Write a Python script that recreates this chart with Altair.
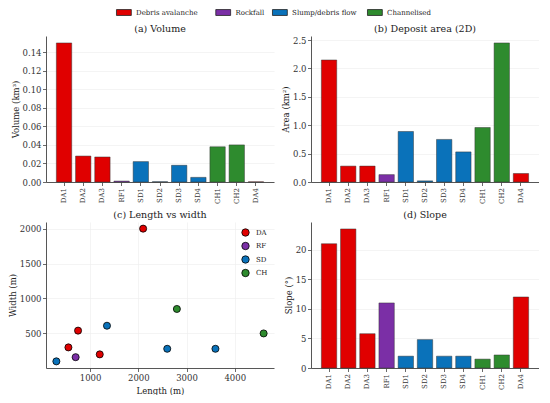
import altair as alt
import pandas as pd

cats = ["DA1", "DA2", "DA3", "RF1", "SD1", "SD2", "SD3", "SD4", "CH1", "CH2", "DA4"]
types = ["Debris avalanche", "Debris avalanche", "Debris avalanche", "Rockfall",
         "Slump/debris flow", "Slump/debris flow", "Slump/debris flow", "Slump/debris flow",
         "Channelised", "Channelised", "Debris avalanche"]
codes = ["DA", "DA", "DA", "RF", "SD", "SD", "SD", "SD", "CH", "CH", "DA"]
volume = [0.150, 0.028, 0.027, 0.001, 0.022, 0.0003, 0.018, 0.005, 0.038, 0.040, 0.0002]
area = [2.15, 0.28, 0.28, 0.13, 0.89, 0.02, 0.75, 0.53, 0.96, 2.45, 0.15]
slope = [21.0, 23.5, 5.8, 11.0, 2.0, 4.8, 2.0, 2.0, 1.5, 2.2, 12.0]
length = [2100, 750, 550, 700, 300, 1350, 2600, 3600, 2800, 4600, 1200]
width_m = [2000, 540, 300, 160, 100, 610, 280, 280, 850, 500, 200]

type_order = ["Debris avalanche", "Rockfall", "Slump/debris flow", "Channelised"]
code_order = ["DA", "RF", "SD", "CH"]
palette = ["#E00000", "#7B2FA6", "#0A72BA", "#2E8B2E"]

df = pd.DataFrame({"cat": cats, "type": types, "code": codes, "volume": volume,
                   "area": area, "slope": slope, "length": length, "width": width_m})

FONT = "DejaVu Serif"
W, H = 228, 146

# one legend entry per type, laid out horizontally across the top
legend_x = [73.4, 172.7, 229.4, 324.4]
legend_layers = []
for t, col, lx in zip(type_order, palette, legend_x):
    legend_layers.append(
        alt.Chart(df).transform_filter(alt.datum.type == t).mark_bar(opacity=0).encode(
            color=alt.Color("type:N", scale=alt.Scale(domain=[t], range=[col]),
                            legend=alt.Legend(orient="none", legendX=lx, legendY=0,
                                              direction="horizontal", title=None,
                                              symbolType="M-2,-0.8L2,-0.8L2,0.8L-2,0.8Z",
                                              symbolSize=55, symbolStrokeColor="#222",
                                              symbolStrokeWidth=0.8, symbolOpacity=1,
                                              labelFontSize=7, labelFont=FONT,
                                              labelColor="#222", labelOffset=7.7,
                                              padding=0))
        )
    )
legend_chart = alt.layer(*legend_layers).resolve_scale(color="independent").properties(
    width=1, height=1)


def bar(field, title, ytitle, dmax, ticks, fmt):
    return alt.Chart(df, title=title).mark_bar(
        stroke="#333", strokeWidth=0.6, strokeOpacity=0.8, opacity=1
    ).encode(
        x=alt.X("cat:N", sort=cats, title=None,
                scale=alt.Scale(paddingInner=0.2, paddingOuter=0.54),
                axis=alt.Axis(labelAngle=270, labelFontSize=7, grid=False, labelPadding=2)),
        y=alt.Y(f"{field}:Q", title=ytitle,
                scale=alt.Scale(domain=[0, dmax], nice=False, zero=True),
                axis=alt.Axis(values=ticks, format=fmt, grid=True)),
        color=alt.Color("type:N", scale=alt.Scale(domain=type_order, range=palette),
                        legend=None),
    ).properties(width=W, height=H)


a = bar("volume", "(a) Volume", "Volume (km³)", 0.1575,
        [0, 0.02, 0.04, 0.06, 0.08, 0.10, 0.12, 0.14], ".2f")
b = bar("area", "(b) Deposit area (2D)", "Area (km²)", 2.5725,
        [0, 0.5, 1.0, 1.5, 2.0, 2.5], ".1f")
d = bar("slope", "(d) Slope", "Slope (°)", 24.675, [0, 5, 10, 15, 20], "d")

c = alt.Chart(df, title="(c) Length vs width").mark_circle(
    size=50, stroke="black", strokeWidth=0.8, opacity=1
).encode(
    x=alt.X("length:Q", title="Length (m)",
            scale=alt.Scale(domain=[85, 4815], nice=False, zero=False),
            axis=alt.Axis(values=[1000, 2000, 3000, 4000], format="d", grid=True,
                          titlePadding=5)),
    y=alt.Y("width:Q", title="Width (m)",
            scale=alt.Scale(domain=[5, 2095], nice=False, zero=False),
            axis=alt.Axis(values=[500, 1000, 1500, 2000], format="d", grid=True)),
    color=alt.Color("code:N", scale=alt.Scale(domain=code_order, range=palette),
                    legend=alt.Legend(orient="top-right", title=None, offset=6,
                                      symbolType="circle", symbolSize=55,
                                      symbolStrokeColor="black", symbolStrokeWidth=0.8,
                                      symbolOpacity=1, labelFontSize=7, labelFont=FONT,
                                      labelColor="#222",
                                      rowPadding=2.5, labelOffset=6)),
).properties(width=W, height=H)

grid = alt.concat(a, b, c, d, columns=2, spacing={"row": 5, "column": 7}).resolve_scale(
    color="independent"
)

chart = alt.vconcat(legend_chart, grid, spacing=5).resolve_scale(
    color="independent"
).properties(
    padding={"left": 0, "top": 0, "right": 0, "bottom": 0}
).configure(
    font=FONT
).configure_view(
    stroke=None
).configure_axis(
    labelFont=FONT, titleFont=FONT, labelFontSize=8.5, titleFontSize=8.5,
    labelColor="#333", titleColor="#222", titleFontWeight="normal",
    domainColor="#444", domainWidth=0.9, tickColor="#444", tickSize=3.5, tickWidth=0.8,
    gridColor="#ececec", gridWidth=0.6, labelPadding=1.5, titlePadding=1.5
).configure_title(
    font=FONT, fontSize=9.5, fontWeight="normal", color="#222", offset=3
).configure_legend(
    labelFont=FONT
)

chart.save("out.html", embed_options={"renderer": "svg", "actions": False})
